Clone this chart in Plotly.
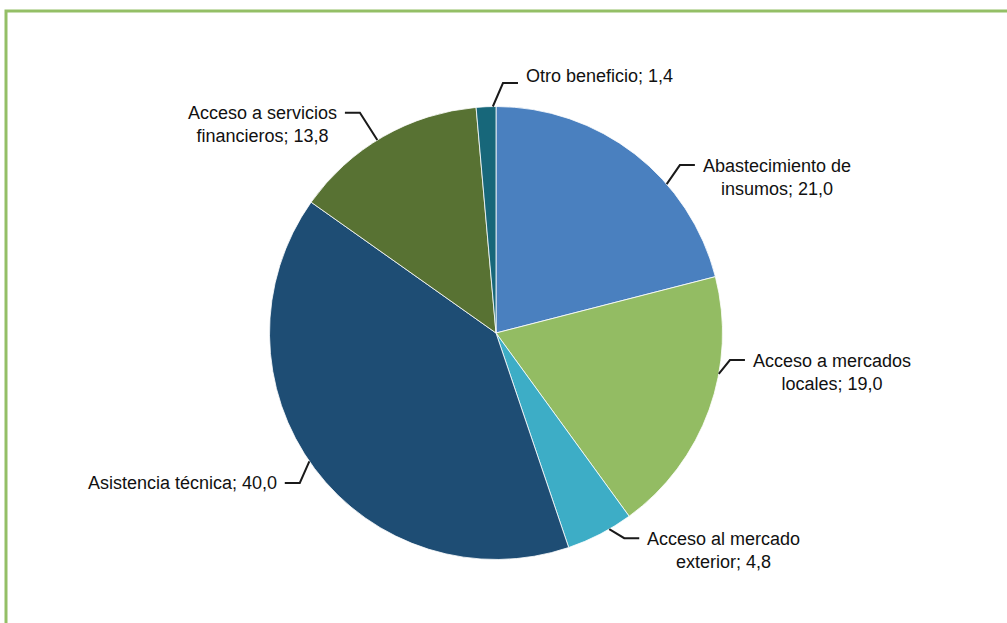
import math
import plotly.graph_objects as go

# ---- data ----
categories = [
    "Abastecimiento de<br>insumos",
    "Acceso a mercados<br>locales",
    "Acceso al mercado<br>exterior",
    "Asistencia técnica",
    "Acceso a servicios<br>financieros",
    "Otro beneficio",
]
values = [21.0, 19.0, 4.8, 40.0, 13.8, 1.4]
colors = ["#4A80BF", "#93BC63", "#3DADC6", "#1E4D74", "#587233", "#17677A"]

# ---- layout / style constants (label placement, as in the original) ----
W, H = 1007, 623
CX, CY, R = 496, 333, 226.5          # pie centre and radius, pixels
edge_angles = [48.9, 100.4, 150, 235.5, 328.4, 359.2]   # leader line meets pie (deg, clockwise from top)
elbow_angles = [47.6, 96.6, 148, 232.6, 328.3, 1.6]
elbow_radii = [249, 235.5, 242, 247, 259, 250]
label_dy = [0, 0, 0, 0, 0, 7]
STUB = 15
FONT = "Liberation Sans, Arial, sans-serif"
FONT_SIZE = 18


def px(x):
    return x / W


def py(y):
    return 1 - y / H


fig = go.Figure(
    go.Pie(
        labels=categories,
        values=values,
        sort=False,
        direction="clockwise",
        rotation=0,
        marker=dict(colors=colors, line=dict(color="white", width=0.8)),
        textinfo="none",
        hoverinfo="label+value",
        domain=dict(x=[px(CX - R), px(CX + R)], y=[py(CY + R), py(CY - R)]),
        showlegend=False,
    )
)

shapes = []
annotations = []
for cat, val, ea, ba, br, dy in zip(categories, values, edge_angles, elbow_angles, elbow_radii, label_dy):
    a = math.radians(ea)
    b = math.radians(ba)
    ex, ey = CX + R * math.sin(a), CY - R * math.cos(a)
    bx, by = CX + br * math.sin(b), CY - br * math.cos(b)
    right = math.sin(b) > 0
    sx = bx + STUB if right else bx - STUB
    shapes.append(dict(
        type="path", xref="paper", yref="paper",
        path=f"M {px(ex)},{py(ey)} L {px(bx)},{py(by)} L {px(sx)},{py(by)}",
        line=dict(color="#1a1a1a", width=2),
    ))
    text = f"{cat}; {val:.1f}".replace(".", ",")
    two_lines = "<br>" in cat
    annotations.append(dict(
        x=px(sx), y=py(by), xref="paper", yref="paper",
        text=text, showarrow=False,
        xanchor="left" if right else "right", yanchor="middle",
        xshift=6 if right else -6,
        yshift=(-12 if two_lines else 0) + dy,
        align="center",
        font=dict(family=FONT, size=FONT_SIZE, color="#111111"),
    ))

# green frame
shapes.append(dict(
    type="rect", xref="paper", yref="paper",
    x0=px(6), x1=px(W + 10), y0=py(H + 10), y1=py(11),
    line=dict(color="#94BF66", width=3), fillcolor="rgba(0,0,0,0)",
))

fig.update_layout(
    width=W, height=H,
    margin=dict(l=0, r=0, t=0, b=0),
    paper_bgcolor="white", plot_bgcolor="white",
    shapes=shapes, annotations=annotations,
)

fig.write_html(
    "out.html",
    config={"displayModeBar": False},
    post_script="document.body.style.margin='0';document.body.style.overflow='hidden';",
)
